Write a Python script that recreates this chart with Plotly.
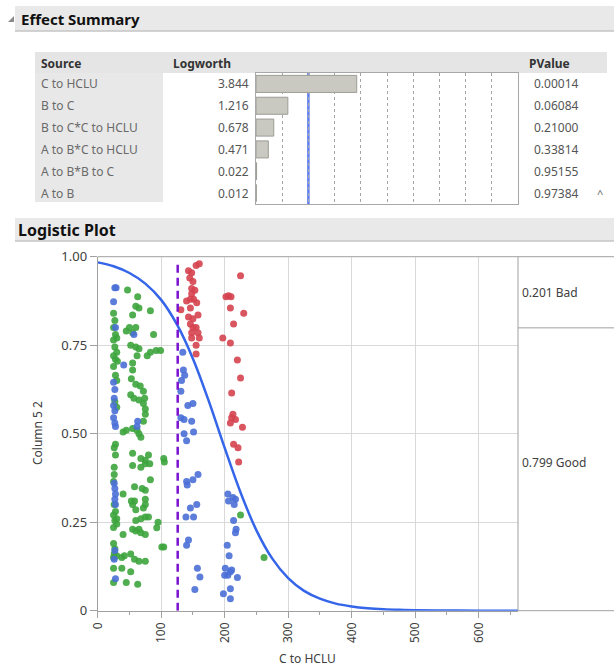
import plotly.graph_objects as go

# ---------------- data ----------------
sources = ["C to HCLU", "B to C", "B to C*C to HCLU", "A to B*C to HCLU", "A to B*B to C", "A to B"]
logworth = [3.844, 1.216, 0.678, 0.471, 0.022, 0.012]
logworth_txt = ["3.844", "1.216", "0.678", "0.471", "0.022", "0.012"]
pvalues = ["0.00014", "0.06084", "0.21000", "0.33814", "0.95155", "0.97384"]

green_x = [47, 63, 25, 60, 65, 83, 55, 27, 25, 28, 30, 45, 50, 55, 60, 88, 52, 60, 65, 25, 27, 30, 25, 28, 31,
           83, 92, 99, 78, 62, 55, 25, 28, 30, 55, 53, 60, 67, 72, 52, 57, 65, 74, 72, 27, 30, 75, 75, 72,
           40, 45, 55, 62, 65, 68, 28, 26, 28, 55, 68, 75, 105, 26, 26, 25, 55, 68, 75, 82, 104, 80, 83,
           58, 70, 75, 58, 75, 75, 72, 40, 53, 55, 60, 26, 28, 30, 25, 27, 30, 25, 60, 68, 75, 80, 95,
           55, 60, 65, 68, 75, 40, 25, 27, 26, 30, 25, 38, 42, 52, 58, 65, 75, 104, 25, 38, 52, 25, 45, 63,
           93, 101, 225, 262]
green_y = [0.906, 0.887, 0.84, 0.86, 0.855, 0.847, 0.835, 0.82, 0.80, 0.78, 0.77, 0.79, 0.80, 0.785, 0.80, 0.78,
           0.75, 0.745, 0.74, 0.765, 0.745, 0.73, 0.72, 0.71, 0.705, 0.73, 0.735, 0.735, 0.72, 0.72, 0.70,
           0.69, 0.665, 0.65, 0.68, 0.655, 0.64, 0.635, 0.62, 0.61, 0.60, 0.595, 0.60, 0.585, 0.59, 0.575,
           0.57, 0.555, 0.535, 0.505, 0.51, 0.515, 0.51, 0.50, 0.49, 0.47, 0.46, 0.44, 0.445, 0.43, 0.425,
           0.42, 0.405, 0.385, 0.365, 0.41, 0.405, 0.415, 0.415, 0.43, 0.44, 0.37, 0.35, 0.345, 0.34, 0.31,
           0.315, 0.30, 0.29, 0.33, 0.31, 0.30, 0.285, 0.30, 0.28, 0.26, 0.27, 0.255, 0.245, 0.235, 0.255,
           0.26, 0.265, 0.265, 0.25, 0.23, 0.225, 0.23, 0.22, 0.215, 0.215, 0.19, 0.175, 0.16, 0.155, 0.15,
           0.15, 0.155, 0.16, 0.145, 0.14, 0.14, 0.18, 0.12, 0.12, 0.11, 0.08, 0.08, 0.075,
           0.234, 0.18, 0.27, 0.15]

blue_x = [27, 29, 25, 28, 57, 41, 25, 27, 26, 25, 27, 25, 27, 28, 63, 62, 26, 27, 28, 27, 28, 27, 26, 28,
          134, 135, 137, 132, 131, 142, 150, 131, 136, 148, 136, 140, 151, 140, 141, 150, 158, 146, 156,
          139, 151, 143, 140, 157, 161, 153,
          205, 206, 213, 217, 215, 214, 218, 217, 204, 207, 201, 200, 205, 209, 211, 220, 209, 198, 209]
blue_y = [0.912, 0.912, 0.873, 0.80, 0.78, 0.694, 0.645, 0.625, 0.60, 0.58, 0.565, 0.545, 0.53, 0.52, 0.535,
          0.52, 0.36, 0.345, 0.33, 0.315, 0.30, 0.17, 0.145, 0.09,
          0.73, 0.68, 0.665, 0.65, 0.62, 0.58, 0.585, 0.545, 0.54, 0.535, 0.50, 0.48, 0.505, 0.365, 0.355,
          0.37, 0.385, 0.29, 0.30, 0.265, 0.265, 0.20, 0.185, 0.12, 0.095, 0.06,
          0.33, 0.31, 0.32, 0.315, 0.30, 0.255, 0.23, 0.22, 0.185, 0.155, 0.12, 0.10, 0.10, 0.11, 0.115,
          0.094, 0.062, 0.048, 0.034]

red_x = [143, 148, 155, 160, 145, 150, 148, 153, 148, 151, 140, 146, 156, 131, 146, 143, 158, 150,
         146, 150, 155, 148, 158, 148, 160, 155, 155,
         225, 202, 206, 210, 209, 230, 214, 197, 209, 220, 225, 211, 213, 211, 217, 209, 228, 214, 221, 222]
red_y = [0.96, 0.955, 0.975, 0.98, 0.94, 0.93, 0.91, 0.905, 0.895, 0.88, 0.875, 0.88, 0.87, 0.85, 0.855,
         0.83, 0.835, 0.825, 0.81, 0.80, 0.80, 0.785, 0.785, 0.77, 0.77, 0.75, 0.725,
         0.946, 0.887, 0.89, 0.887, 0.855, 0.84, 0.81, 0.77, 0.756, 0.708, 0.657, 0.615, 0.555, 0.545,
         0.54, 0.53, 0.518, 0.47, 0.46, 0.42]

curve_x = [0, 25, 50, 75, 100, 125, 150, 175, 200, 225, 250, 275, 300, 325, 350, 375, 400, 425, 450,
           475, 500, 550, 600, 662]
curve_y = [0.984, 0.973, 0.954, 0.924, 0.878, 0.808, 0.712, 0.592, 0.460, 0.334, 0.227, 0.147, 0.092,
           0.056, 0.034, 0.020, 0.012, 0.007, 0.004, 0.0024, 0.0014, 0.0005, 0.0002, 0.0001]

cutoff_x = 126
bad_prob, good_prob = 0.201, 0.799
x_ticks = [0, 100, 200, 300, 400, 500, 600]
y_ticks = [0, 0.25, 0.5, 0.75, 1.0]
y_ticktext = ["0", "0.25", "0.50", "0.75", "1.00"]

# ---------------- layout helpers ----------------
W, H = 614, 669
def PX(x): return x / W
def PY(y): return 1 - y / H

FONT = "Noto Sans"
fig = go.Figure()

# logworth bars
fig.add_trace(go.Bar(x=logworth, y=sources, orientation="h", xaxis="x2", yaxis="y2",
                     marker=dict(color="#c9c9c1", line=dict(color="#9d9d95", width=1)),
                     width=0.78, showlegend=False, hoverinfo="skip"))

mk = dict(size=7, opacity=0.9, line=dict(width=0))
fig.add_trace(go.Scatter(x=green_x, y=green_y, mode="markers", marker=dict(color="#3da43d", **mk), showlegend=False))
fig.add_trace(go.Scatter(x=blue_x, y=blue_y, mode="markers", marker=dict(color="#4a6fd6", **mk), showlegend=False))
fig.add_trace(go.Scatter(x=red_x, y=red_y, mode="markers", marker=dict(color="#d5434f", **mk), showlegend=False))
fig.add_trace(go.Scatter(x=curve_x, y=curve_y, mode="lines", line=dict(color="#3565e8", width=2.5, shape="spline"),
                         showlegend=False))
fig.add_trace(go.Scatter(x=[cutoff_x, cutoff_x], y=[0, 0.98], mode="lines",
                         line=dict(color="#7a12d0", width=2.5, dash="8px,5px"), showlegend=False))

x0, x1 = 97.7, 518.0
y0, y1 = 610.7, 256.7
fig.update_layout(
    width=W, height=H, margin=dict(l=0, r=0, t=0, b=0, pad=0), autosize=False,
    paper_bgcolor="white", plot_bgcolor="white",
    font=dict(family=FONT, size=12, color="#404040"),
    xaxis=dict(domain=[PX(x0), PX(x1)], range=[0, 662], tickvals=x_ticks, tickangle=-90, automargin=False,
               ticks="outside", ticklen=6, tickcolor="#a0a0a0", showline=True, linecolor="#a0a0a0",
               showgrid=True, gridcolor="#d9d9d9", zeroline=False,
               minor=dict(dtick=50, ticks="outside", ticklen=3, tickcolor="#a0a0a0", showgrid=False),
               tickfont=dict(size=12, color="#404040")),
    yaxis=dict(domain=[PY(y0), PY(y1)], range=[0, 1], tickvals=y_ticks, ticktext=y_ticktext, automargin=False,
               ticks="outside", ticklen=7, tickcolor="#a0a0a0", showline=True, linecolor="#a0a0a0",
               showgrid=True, gridcolor="#d9d9d9", zeroline=False, tickfont=dict(size=13, color="#404040")),
    xaxis2=dict(domain=[PX(256), PX(518)], range=[0, 10], dtick=1, showticklabels=False, ticks="",
                automargin=False,
                showgrid=True, gridcolor="#a5a5a5", griddash="dot", gridwidth=1, zeroline=False,
                showline=True, linecolor="#a8a8a8", mirror=True, anchor="y2"),
    yaxis2=dict(domain=[PY(204), PY(73)], autorange="reversed", showticklabels=False, ticks="",
                automargin=False,
                showgrid=False, zeroline=False, showline=True, linecolor="#a8a8a8", mirror=True, anchor="x2"),
    bargap=0.22,
)

shapes = []
ann = []
# Effect Summary header
shapes.append(dict(type="rect", xref="paper", yref="paper", x0=PX(15), x1=1, y0=PY(31), y1=PY(6),
                   fillcolor="#e9e9e9", line=dict(width=0), layer="below"))
shapes.append(dict(type="line", xref="paper", yref="paper", x0=PX(15), x1=1, y0=PY(31), y1=PY(31),
                   line=dict(color="#c4c4c4", width=1.5)))
shapes.append(dict(type="path", xref="paper", yref="paper",
                   path=f"M {PX(8)} {PY(22)} L {PX(14)} {PY(22)} L {PX(14)} {PY(16)} Z",
                   fillcolor="#8a8a8a", line=dict(width=0)))
ann.append(dict(text="<b>Effect Summary</b>", x=PX(19), y=PY(19), xanchor="left", yanchor="middle",
                font=dict(size=15, color="#111111")))
# table header row
shapes.append(dict(type="rect", xref="paper", yref="paper", x0=PX(35), x1=PX(607), y0=PY(73), y1=PY(52),
                   fillcolor="#e5e5e5", line=dict(width=0), layer="below"))
# source column
shapes.append(dict(type="rect", xref="paper", yref="paper", x0=PX(35), x1=PX(163), y0=PY(202), y1=PY(73),
                   fillcolor="#e8e8e8", line=dict(width=0), layer="below"))
ann.append(dict(text="<b>Source</b>", x=PX(39), y=PY(63), xanchor="left", yanchor="middle",
                font=dict(size=12, color="#333333")))
ann.append(dict(text="<b>Logworth</b>", x=PX(171), y=PY(63), xanchor="left", yanchor="middle",
                font=dict(size=12, color="#333333")))
ann.append(dict(text="<b>PValue</b>", x=PX(527), y=PY(63), xanchor="left", yanchor="middle",
                font=dict(size=12, color="#333333")))
row_h = (204 - 73) / 6
for i, s in enumerate(sources):
    yc = 73 + row_h * (i + 0.5)
    ann.append(dict(text=s, x=PX(39), y=PY(yc), xanchor="left", yanchor="middle",
                    font=dict(size=12, color="#6a6a6a")))
    ann.append(dict(text=logworth_txt[i], x=PX(251), y=PY(yc), xanchor="right", yanchor="middle",
                    font=dict(size=12, color="#555555")))
    ann.append(dict(text=pvalues[i], x=PX(532), y=PY(yc), xanchor="left", yanchor="middle",
                    font=dict(size=12, color="#555555")))
ann.append(dict(text="^", x=PX(595), y=PY(73 + row_h * 5.5), xanchor="left", yanchor="middle",
                font=dict(size=11, color="#666666")))
# logworth 2 reference line
shapes.append(dict(type="line", xref="x2", yref="paper", x0=2, x1=2, y0=PY(204), y1=PY(73),
                   line=dict(color="#5b7cf0", width=2.5), layer="below"))

# Logistic Plot header
shapes.append(dict(type="rect", xref="paper", yref="paper", x0=PX(15), x1=1, y0=PY(241), y1=PY(218),
                   fillcolor="#e9e9e9", line=dict(width=0), layer="below"))
shapes.append(dict(type="line", xref="paper", yref="paper", x0=PX(15), x1=1, y0=PY(241), y1=PY(241),
                   line=dict(color="#c4c4c4", width=1.5)))
ann.append(dict(text="<b>Logistic Plot</b>", x=PX(16), y=PY(230), xanchor="left", yanchor="middle",
                font=dict(size=16, color="#111111")))

# plot frame and right panel
shapes.append(dict(type="line", xref="paper", yref="paper", x0=PX(x0), x1=1, y0=PY(y1), y1=PY(y1),
                   line=dict(color="#a0a0a0", width=1)))
shapes.append(dict(type="line", xref="paper", yref="paper", x0=PX(x1), x1=PX(x1), y0=PY(y0), y1=PY(y1),
                   line=dict(color="#a0a0a0", width=1)))
shapes.append(dict(type="line", xref="paper", yref="paper", x0=PX(x1), x1=1, y0=PY(y0), y1=PY(y0),
                   line=dict(color="#a0a0a0", width=1)))
shapes.append(dict(type="line", xref="paper", yref="y", x0=PX(x1), x1=1, y0=1 - bad_prob, y1=1 - bad_prob,
                   line=dict(color="#a0a0a0", width=1)))
ann.append(dict(text=f"{bad_prob:.3f} Bad", x=PX(520), y=1 - bad_prob / 2, yref="y", xanchor="left",
                yanchor="middle", font=dict(size=12, color="#404040")))
ann.append(dict(text=f"{good_prob:.3f} Good", x=PX(520), y=good_prob / 2 + 0.02, yref="y", xanchor="left",
                yanchor="middle", font=dict(size=12, color="#404040")))
# axis titles
ann.append(dict(text="C to HCLU", x=PX((x0 + x1) / 2), y=PY(658), xanchor="center", yanchor="middle",
                font=dict(size=12, color="#404040")))
ann.append(dict(text="Column 5 2", x=PX(37), y=PY(433), xanchor="center", yanchor="middle", textangle=-90,
                font=dict(size=12, color="#404040")))

for a in ann:
    a.setdefault("xref", "paper")
    a.setdefault("yref", "paper")
    a["showarrow"] = False
fig.update_layout(shapes=shapes, annotations=ann)
fig.write_html("out.html", config={"displayModeBar": False},
               post_script="document.body.style.margin='0';document.body.style.overflow='hidden';")
